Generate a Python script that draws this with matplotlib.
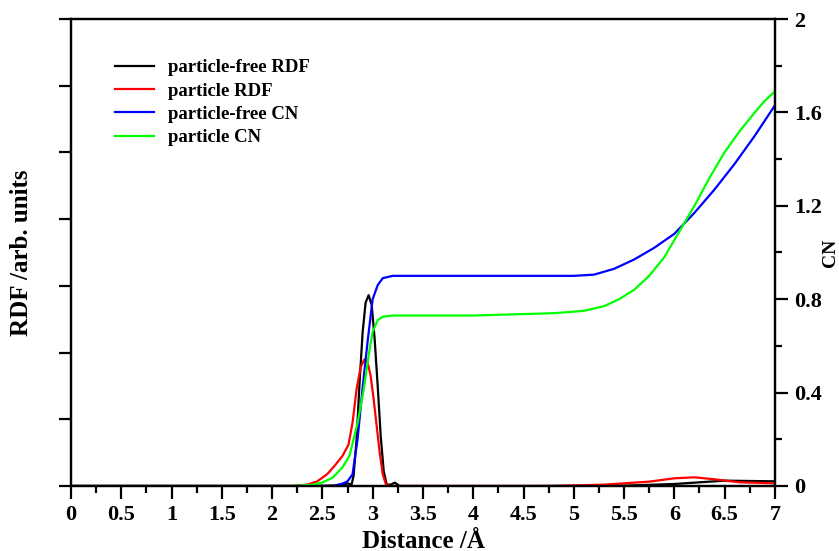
import matplotlib
matplotlib.use("Agg")
import matplotlib.pyplot as plt
from matplotlib.ticker import MultipleLocator

plt.rcParams['font.family'] = ['Liberation Serif', 'DejaVu Serif']
plt.rcParams['font.weight'] = 'bold'

# particle-free RDF (arb. units)
rdf_free_x = [0, 2.4, 2.7, 2.75, 2.79, 2.81, 2.84, 2.87, 2.90, 2.93, 2.96, 2.99, 3.02, 3.05, 3.08,
              3.11, 3.14, 3.18, 3.22, 3.27, 3.35, 4.5, 5.5, 6.0, 6.5, 7.0]
rdf_free_y = [0, 0, 0.01, 0.04, 0.02, 0.15, 0.7, 1.55, 2.3, 2.75, 2.86, 2.72, 2.2, 1.5, 0.75,
              0.22, 0.02, 0.02, 0.05, 0.0, 0, 0, 0.005, 0.03, 0.08, 0.07]

# particle RDF (arb. units)
rdf_part_x = [0, 2.2, 2.35, 2.45, 2.55, 2.62, 2.7, 2.76, 2.8, 2.84, 2.88, 2.92, 2.95, 2.98, 3.01,
              3.04, 3.07, 3.10, 3.13, 3.16, 4.8, 5.3, 5.5, 5.75, 6.0, 6.2, 6.4, 6.65, 7.0]
rdf_part_y = [0, 0, 0.02, 0.07, 0.18, 0.3, 0.45, 0.62, 0.95, 1.45, 1.78, 1.9, 1.85, 1.65, 1.3,
              0.9, 0.5, 0.18, 0.03, 0, 0, 0.02, 0.04, 0.065, 0.115, 0.13, 0.1, 0.055, 0.04]

# particle-free CN
cn_free_x = [0, 2.6, 2.7, 2.75, 2.8, 2.85, 2.9, 2.95, 3.0, 3.05, 3.1, 3.15, 3.2, 3.5, 4.5, 5.0,
             5.2, 5.4, 5.6, 5.8, 6.0, 6.2, 6.4, 6.6, 6.8, 7.0]
cn_free_y = [0, 0, 0.01, 0.02, 0.05, 0.2, 0.42, 0.62, 0.8, 0.86, 0.89, 0.895, 0.9, 0.9, 0.9, 0.9,
             0.905, 0.93, 0.97, 1.02, 1.08, 1.17, 1.27, 1.38, 1.5, 1.63]

# particle CN
cn_part_x = [0, 2.2, 2.4, 2.5, 2.6, 2.7, 2.77, 2.85, 2.91, 2.96, 3.0, 3.05, 3.1, 3.2, 4.0, 4.8,
             5.1, 5.3, 5.45, 5.6, 5.75, 5.9, 6.05, 6.2, 6.35, 6.5, 6.65, 6.8, 6.9, 7.0]
cn_part_y = [0, 0, 0.005, 0.015, 0.035, 0.08, 0.13, 0.27, 0.41, 0.56, 0.66, 0.71, 0.725, 0.73,
             0.73, 0.74, 0.75, 0.77, 0.8, 0.84, 0.9, 0.98, 1.09, 1.2, 1.32, 1.43, 1.52, 1.6, 1.65, 1.69]

x_ticks = [i * 0.5 for i in range(15)]
x_ticklabels = ['0', '0.5', '1', '1.5', '2', '2.5', '3', '3.5', '4', '4.5', '5', '5.5', '6', '6.5', '7']
cn_ticks = [0, 0.4, 0.8, 1.2, 1.6, 2]
cn_ticklabels = ['0', '0.4', '0.8', '1.2', '1.6', '2']

fig = plt.figure(figsize=(8.39, 5.51), dpi=100)
ax = fig.add_axes([0.0846, 0.118, 0.839, 0.8475])
ax2 = ax.twinx()

l1, = ax.plot(rdf_free_x, rdf_free_y, color='black', lw=1.6, label='particle-free RDF')
l2, = ax.plot(rdf_part_x, rdf_part_y, color='red', lw=1.6, label='particle RDF')
l3, = ax2.plot(cn_free_x, cn_free_y, color='blue', lw=1.6, label='particle-free CN')
l4, = ax2.plot(cn_part_x, cn_part_y, color='#00ff00', lw=1.6, label='particle CN')

ax.set_xlim(0, 7)
ax.set_ylim(0, 7)
ax2.set_ylim(0, 2)

# x axis: major every 0.5, minor every 0.25
ax.set_xticks(x_ticks)
ax.set_xticklabels(x_ticklabels)
ax.xaxis.set_minor_locator(MultipleLocator(0.25))

# left axis: ticks only, no numbers
ax.yaxis.set_major_locator(MultipleLocator(1))
ax.set_yticklabels([])

# right axis: CN
ax2.set_yticks(cn_ticks)
ax2.set_yticklabels(cn_ticklabels)
ax2.yaxis.set_minor_locator(MultipleLocator(0.2))

for a in (ax, ax2):
    for s in a.spines.values():
        s.set_linewidth(1.6)
    a.tick_params(which='major', direction='out', length=9, width=1.6, labelsize=16, pad=5)
    a.tick_params(which='minor', direction='out', length=5, width=1.6)

ax.set_xlabel('Distance /Å', fontsize=18, fontweight='bold', labelpad=3)
ax.set_ylabel('RDF /arb. units', fontsize=18, fontweight='bold', labelpad=13)
ax2.set_ylabel('CN', fontsize=14, fontweight='bold', labelpad=0)

ax.legend(handles=[l1, l2, l3, l4], loc='upper left', bbox_to_anchor=(0.052, 0.93),
          frameon=False, prop={'size': 13.5, 'weight': 'bold'},
          handlelength=2.1, handletextpad=0.7, labelspacing=0.33, borderaxespad=0)

fig.savefig('out.png', dpi=100)
